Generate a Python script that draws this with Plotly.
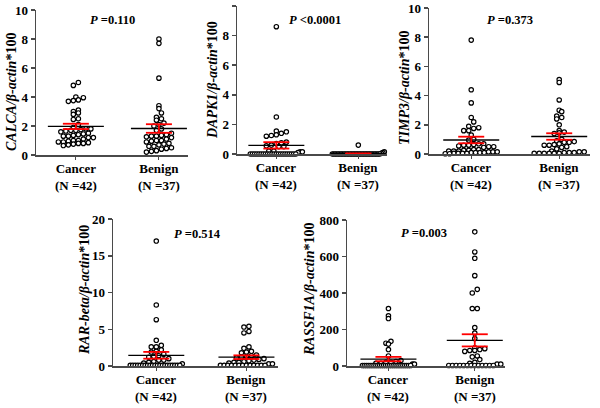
import plotly.graph_objects as go

# ---------------- data ----------------
categories = ["Cancer", "Benign"]
n_labels = ["(N =42)", "(N =37)"]

calca_cancer = [5.0, 4.8, 4.0, 3.95, 3.8, 3.75, 3.7, 3.1, 3.0, 2.9, 2.8, 2.5, 2.45, 2.1, 1.9,
                1.8, 1.75, 1.7, 1.7, 1.65, 1.6, 1.8, 1.5, 1.45, 1.4, 1.35, 1.3, 1.3, 1.2, 1.2,
                1.1, 1.0, 1.0, 0.95, 0.9, 0.9, 0.85, 0.8, 0.8, 0.75, 0.7, 0.65]
calca_benign = [8.0, 7.7, 5.3, 3.4, 3.2, 2.9, 2.6, 2.5, 2.4, 2.2, 2.1, 2.0, 1.8, 1.7, 1.5, 1.4,
                1.35, 1.3, 1.3, 1.25, 1.2, 1.1, 1.0, 1.0, 0.95, 0.9, 0.8, 0.75, 0.7, 0.6, 0.6,
                0.5, 0.45, 0.4, 0.3, 0.25, 0.2]

dapk1_cancer = [8.6, 2.5, 1.55, 1.5, 1.4, 1.3, 1.25, 1.2, 0.8, 0.75, 0.7, 0.6, 0.55, 0.5, 0.5,
                0.2, 0.2, 0.15, 0.15, 0.1] + [0.0] * 22
dapk1_benign = [0.6, 0.15, 0.1, 0.05] + [0.0] * 33

timp3_cancer = [7.8, 4.4, 3.5, 2.5, 2.2, 1.9, 1.8, 1.75, 1.6, 1.6, 1.3, 1.0, 0.95, 0.7, 0.7,
                0.65, 0.6, 0.6, 0.55, 0.5, 0.5, 0.45, 0.3, 0.3, 0.25, 0.25, 0.2, 0.2, 0.2,
                0.15, 0.15, 0.15, 0.1, 0.1, 0.1, 0.1, 0.05, 0.05, 0.05, 0.05, 0.02, 0.02]
timp3_benign = [5.1, 4.9, 3.7, 3.0, 2.9, 2.6, 2.5, 2.4, 2.0, 1.6, 1.5, 1.45, 1.4, 1.0, 0.9,
                0.85, 0.8, 0.8, 0.7, 0.65, 0.6, 0.6, 0.5, 0.45, 0.35, 0.2, 0.15, 0.1, 0.1,
                0.05, 0.05, 0.05, 0.05, 0.05, 0.05, 0.1, 0.15]

rar_cancer = [17.0, 8.3, 6.3, 3.5, 2.8, 2.6, 2.6, 2.2, 2.0, 1.9, 1.6, 1.4, 1.3, 1.2, 1.0, 0.8,
              0.8, 0.6, 0.5, 0.4, 0.3] + [0.1] * 21
rar_benign = [5.4, 5.3, 4.7, 4.5, 2.6, 2.4, 2.0, 1.9, 1.8, 1.5, 1.4, 1.3, 1.2, 1.1, 1.0, 0.9,
              0.8, 0.7, 0.6, 0.5, 0.5, 0.4, 0.3, 0.3] + [0.1] * 13

rassf_cancer = [315, 275, 260, 135, 125, 120, 90, 55, 30, 25, 20, 20, 15, 15, 10, 10] + [3] * 26
rassf_benign = [735, 625, 590, 495, 420, 400, 315, 315, 210, 180, 150, 100, 95, 90, 85, 85, 80,
                55, 50, 35, 20, 15, 10, 10] + [3] * 13

genes = ["CALCA", "DAPK1", "TIMP3", "RAR-beta", "RASSF1A"]
p_values = ["=0.110", "<0.0001", "=0.373", "=0.514", "=0.003"]
y_max = [10, 10, 10, 20, 800]
y_dtick = [2, 2, 2, 5, 200]
group_data = [(calca_cancer, calca_benign), (dapk1_cancer, dapk1_benign),
              (timp3_cancer, timp3_benign), (rar_cancer, rar_benign),
              (rassf_cancer, rassf_benign)]

# ---------------- layout geometry (pixels) ----------------
FW, FH = 600, 408
geo = [  # x_left, x_right, y_bottom(0), y_top
    (36, 188, 155, 10),
    (237, 387, 154, 6),
    (429, 590, 154, 8),
    (113, 278, 366, 219),
    (347, 505, 366, 220),
]
title_pos = [(12, 92), (213, 80), (404, 88), (85, 290), (310, 290)]
p_pos = [(0.5, 0.93), (0.52, 0.905), (0.5, 0.92), (0.51, 0.9), (0.49, 0.91)]
XR = [0.52, 2.35]
FONT = "Liberation Serif"

fig = go.Figure()
D = 5.0     # row spacing in px
WMAX = 26   # max half width in px


def swarm(vals, ppu_x, ppu_y):
    rows = {}
    for i, v in enumerate(vals):
        r = int(round(v * ppu_y / D))
        rows.setdefault(r, []).append(i)
    offs = [0.0] * len(vals)
    for r, idx in rows.items():
        idx = sorted(idx, key=lambda i: vals[i])
        k = len(idx)
        s = D if k <= 1 else min(D, 2 * WMAX / (k - 1))
        for j, i in enumerate(idx):
            offs[i] = (j - (k - 1) / 2) * s / ppu_x
    return offs


annotations = []
for k in range(5):
    xl, xr, yb, yt = geo[k]
    ppu_x = (xr - xl) / (XR[1] - XR[0])
    ppu_y = (yb - yt) / y_max[k]
    xa = "x" if k == 0 else f"x{k+1}"
    ya = "y" if k == 0 else f"y{k+1}"
    for g in range(2):
        vals = group_data[k][g]
        offs = swarm(vals, ppu_x, ppu_y)
        cx = g + 1
        fig.add_trace(go.Scatter(
            x=[cx + o for o in offs], y=vals, mode="markers", xaxis=xa, yaxis=ya,
            marker=dict(symbol="circle", size=4.4, color="white",
                        line=dict(color="black", width=1.2)),
            cliponaxis=False, showlegend=False, hoverinfo="skip"))
        n = len(vals)
        mean = sum(vals) / n
        sd = (sum((v - mean) ** 2 for v in vals) / (n - 1)) ** 0.5
        sem = sd / n ** 0.5
        hw = 28 / ppu_x
        fig.add_trace(go.Scatter(
            x=[cx - hw, cx + hw], y=[mean, mean], mode="lines", xaxis=xa, yaxis=ya,
            line=dict(color="black", width=1.3), cliponaxis=False,
            showlegend=False, hoverinfo="skip"))
        sw = 13 / ppu_x
        lo = max(mean - sem, 0)
        fig.add_trace(go.Scatter(
            x=[cx - sw, cx + sw, None, cx - sw, cx + sw, None, cx, cx],
            y=[mean + sem, mean + sem, None, lo, lo, None, mean + sem, lo],
            mode="lines", xaxis=xa, yaxis=ya,
            line=dict(color="#ff0000", width=1.8), cliponaxis=False,
            showlegend=False, hoverinfo="skip"))

    xkey = "xaxis" if k == 0 else f"xaxis{k+1}"
    ykey = "yaxis" if k == 0 else f"yaxis{k+1}"
    fig.layout[xkey] = dict(
        domain=[xl / FW, xr / FW], range=XR, anchor=ya, automargin=False,
        tickvals=[1, 2], showticklabels=False,
        showline=True, linecolor="#4a4a4a", linewidth=2,
        ticks="outside", ticklen=3, tickcolor="#4a4a4a", tickwidth=1,
        showgrid=False, zeroline=False, fixedrange=True)
    fig.layout[ykey] = dict(
        domain=[(FH - yb) / FH, (FH - yt) / FH], range=[0, y_max[k]], dtick=y_dtick[k],
        anchor=xa, automargin=False,
        tickfont=dict(family=FONT, size=13, color="black", weight="bold"),
        showline=True, linecolor="#4a4a4a", linewidth=1.5,
        ticks="outside", ticklen=4, tickcolor="#4a4a4a", tickwidth=1.5,
        showgrid=False, zeroline=False, fixedrange=True)

    for g in range(2):
        annotations.append(dict(
            x=g + 1, y=(FH - yb - 4) / FH, xref=xa, yref="paper",
            text=f"<b>{categories[g]}</b><br><b>{n_labels[g]}</b>", showarrow=False,
            font=dict(family=FONT, size=13, color="black"), xanchor="center",
            yanchor="top", align="center"))

    tx, ty = title_pos[k]
    annotations.append(dict(
        x=tx / FW, y=(FH - ty) / FH, xref="paper", yref="paper", textangle=-90,
        text=f"<b><i>{genes[k]}/β-actin</i>*100</b>", showarrow=False,
        font=dict(family=FONT, size=14, color="black"), xanchor="center", yanchor="middle"))
    px, py = p_pos[k]
    annotations.append(dict(
        x=px, y=py, xref=f"{xa} domain", yref=f"{ya} domain",
        text=f"<b><i>P</i> {p_values[k]}</b>", showarrow=False,
        font=dict(family=FONT, size=12.5, color="black"), xanchor="center", yanchor="middle"))

fig.update_layout(
    width=FW, height=FH, margin=dict(l=0, r=0, t=0, b=0, autoexpand=False),
    paper_bgcolor="white", plot_bgcolor="white", annotations=annotations,
    font=dict(family=FONT), hovermode=False)

fig.write_html("out.html", config={"displayModeBar": False, "staticPlot": True},
               post_script="document.body.style.margin='0';document.body.style.overflow='hidden';")
